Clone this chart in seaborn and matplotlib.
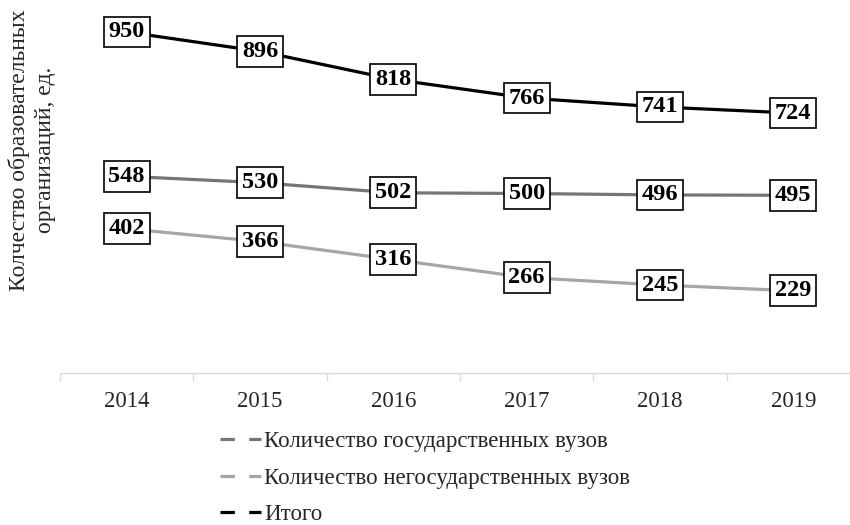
import numpy as np
import pandas as pd
import matplotlib
matplotlib.use('Agg')
import matplotlib.pyplot as plt
import seaborn as sns
from matplotlib.lines import Line2D

# data
years = ['2014', '2015', '2016', '2017', '2018', '2019']
state = [548, 530, 502, 500, 496, 495]
nonstate = [402, 366, 316, 266, 245, 229]
total = [950, 896, 818, 766, 741, 724]

series_names = ['Количество государственных вузов',
                'Количество негосударственных вузов',
                'Итого']
series_colors = ['#767676', '#a6a6a6', '#000000']

sns.set_style('white')
plt.rcParams['font.family'] = ['Liberation Serif', 'DejaVu Serif']

fig = plt.figure(figsize=(8.5, 5.25), dpi=100)
ax = fig.add_axes([60 / 850, 1 - 373 / 525, 800 / 850, (373 - 14) / 525])

xs = np.arange(len(years))
for name, vals, col in zip(series_names, [state, nonstate, total], series_colors):
    sns.lineplot(x=xs, y=vals, ax=ax, color=col, linewidth=2.3, legend=False)
    for x, v in zip(xs, vals):
        ax.text(x, v, str(v), ha='center', va='center', fontsize=17.5,
                fontweight='bold', color='black',
                bbox=dict(boxstyle='square,pad=0.2', facecolor='white',
                          edgecolor='black', linewidth=1.2))

ax.set_ylim(0, 1000)
ax.set_xlim(-0.5, 5.42)
ax.set_yticks([])
ax.set_xticks(xs)
ax.set_xticklabels(years, fontsize=16.5)
ax.set_xticks(np.arange(-0.5, 6, 1), minor=True)
ax.tick_params(axis='x', which='major', length=0, pad=13)
ax.tick_params(axis='x', which='minor', length=6, color='#d9d9d9', width=1,
               bottom=True, direction='out')
for s in ['top', 'right', 'left']:
    ax.spines[s].set_visible(False)
ax.spines['bottom'].set_color('#d9d9d9')
ax.spines['bottom'].set_linewidth(1)

fig.text(32 / 850, 1 - 150 / 525, 'Колчество образовательных\nорганизаций, ед.',
         rotation=90, ha='center', va='center', fontsize=17, linespacing=1.35)

handles = [Line2D([], [], color=c, linewidth=2.3, linestyle=(0, (4.5, 4.5)))
           for c in series_colors]
fig.legend(handles, series_names, loc='upper center',
           bbox_to_anchor=(0.5, 1 - 422 / 525), frameon=False, fontsize=16.5,
           handlelength=1.8, handletextpad=0.15, labelspacing=0.68,
           borderaxespad=0)

fig.savefig('out.png', dpi=100)
